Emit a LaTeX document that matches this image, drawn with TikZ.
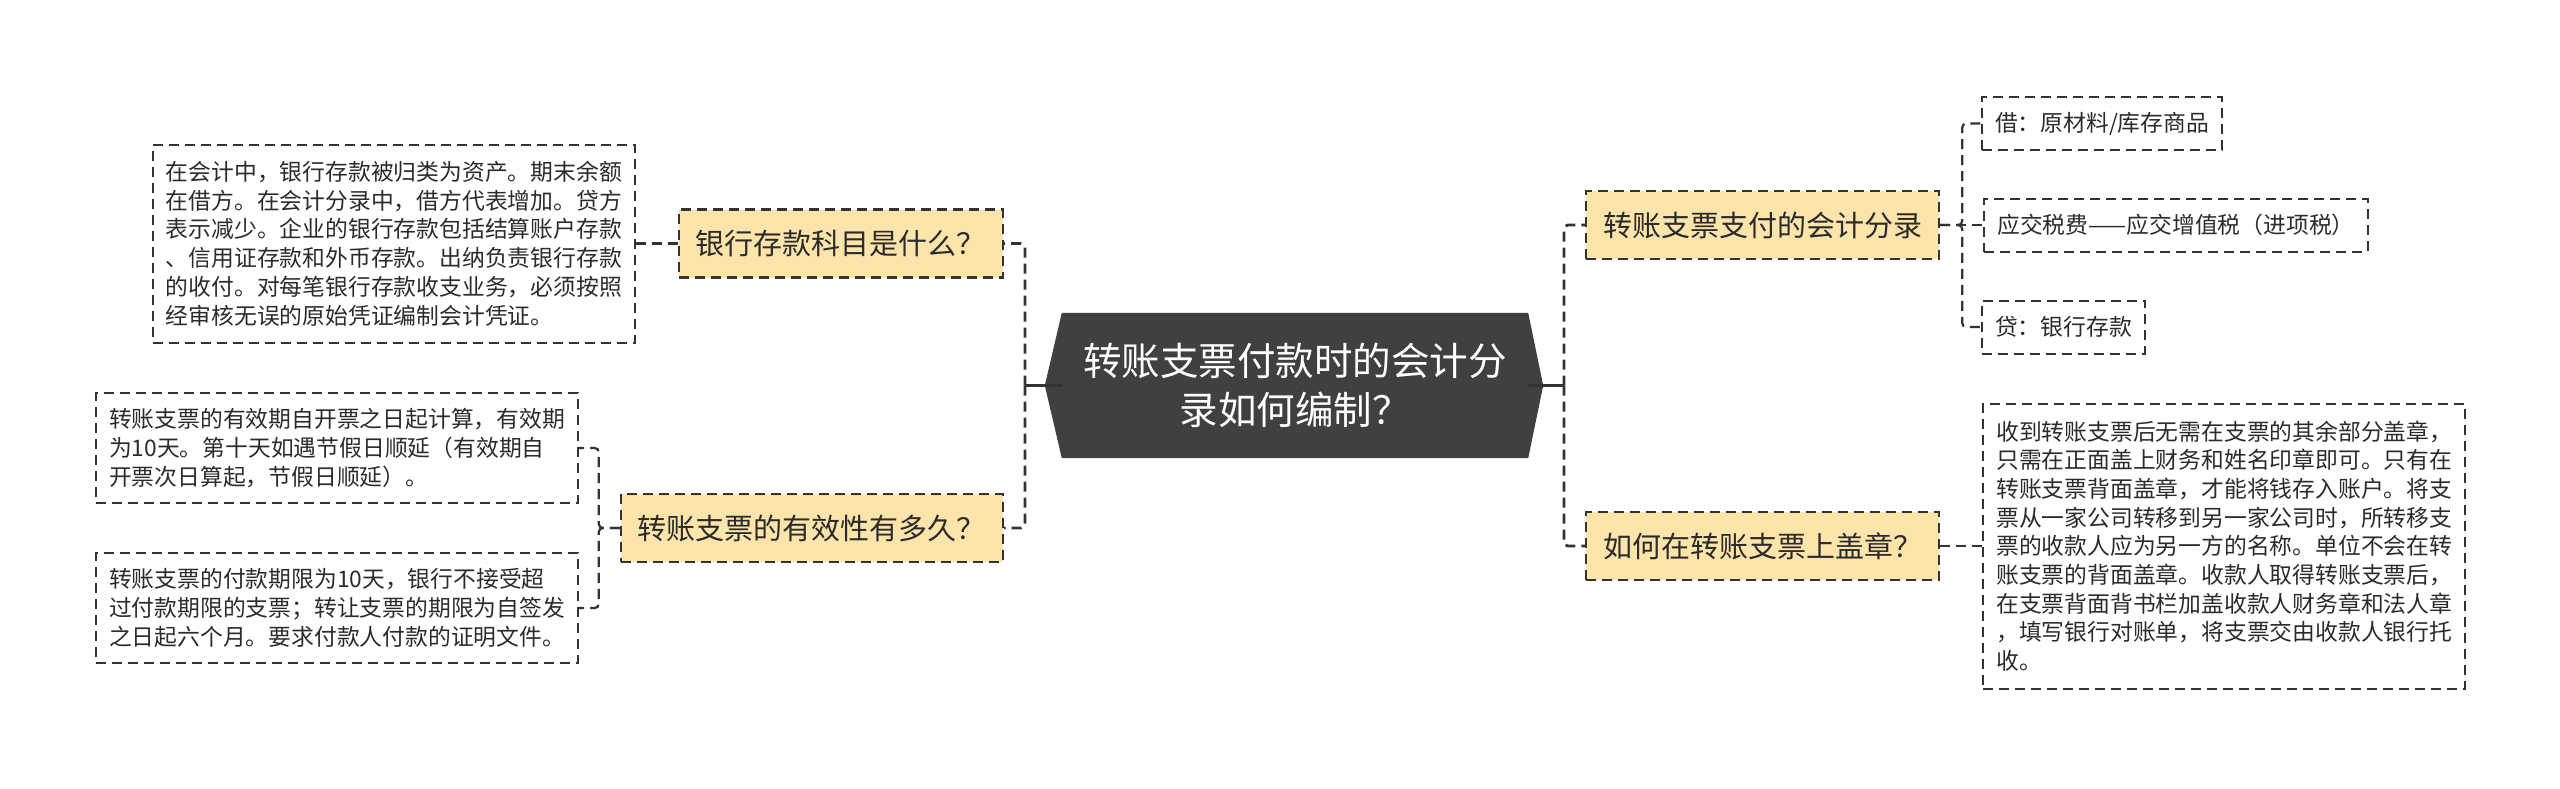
\documentclass[tikz,border=0pt]{standalone}
\usepackage{fontspec}
\setmainfont{Noto Sans CJK SC}
\usetikzlibrary{positioning,backgrounds}

\definecolor{rootgray}{HTML}{404040}
\definecolor{linegray}{HTML}{333333}
\definecolor{topicfill}{HTML}{FCE4AA}
\definecolor{textgray}{HTML}{2B2B2B}

\begin{document}
\begin{tikzpicture}[
    x=1pt, y=-1pt,
    root/.style={
        text=white,
        align=center,
        inner sep=0pt,
        minimum width=466pt,
        minimum height=145pt,
        font=\fontsize{38.5}{49}\selectfont
    },
    topic/.style={
        draw=linegray,
        fill=topicfill,
        line width=2.2pt,
        dash pattern=on 10pt off 6pt,
        inner xsep=17pt,
        minimum height=68pt,
        text=textgray,
        font=\fontsize{29}{35}\selectfont
    },
    detail/.style={
        draw=linegray,
        line width=2pt,
        dash pattern=on 10pt off 6pt,
        align=left,
        inner xsep=13pt,
        minimum height=#1,
        text=textgray,
        font=\fontsize{22.8}{28.7}\selectfont
    },
    detail/.default=53pt,
    stub/.style={line width=3pt, draw=linegray},
    branch/.style={line width=2.8pt, draw=linegray, dash pattern=on 10pt off 6pt, rounded corners=4pt},
    leaf/.style={line width=2.2pt, draw=linegray, dash pattern=on 10pt off 6pt, rounded corners=4pt}
]

\useasboundingbox (0,0) rectangle (2560,788);

\node[root] (root) at (1295,385.5) {转账支票付款时的会计分\\录如何编制？};

\node[topic, anchor=east] (bank) at (1004,243.5) {银行存款科目是什么？};
\node[topic, anchor=east] (valid) at (1004,528) {转账支票的有效性有多久？};
\node[topic, anchor=west] (entry) at (1585,225) {转账支票支付的会计分录};
\node[topic, anchor=west] (stamp) at (1585,546) {如何在转账支票上盖章？};

\node[detail=198pt, left=42pt of bank] (bankinfo) {在会计中，银行存款被归类为资产。期末余额\\在借方。在会计分录中，借方代表增加。贷方\\表示减少。企业的银行存款包括结算账户存款\\、信用证存款和外币存款。出纳负责银行存款\\的收付。对每笔银行存款收支业务，必须按照\\经审核无误的原始凭证编制会计凭证。};
\node[detail=110pt, anchor=east] (validA) at (579,448) {转账支票的有效期自开票之日起计算，有效期\\为10天。第十天如遇节假日顺延（有效期自\\开票次日算起，节假日顺延）。};
\node[detail=110pt, anchor=east] (validB) at (579,608) {转账支票的付款期限为10天，银行不接受超\\过付款期限的支票；转让支票的期限为自签发\\之日起六个月。要求付款人付款的证明文件。};

\node[detail, anchor=west] (debit) at (1981,123.5) {借：原材料/库存商品};
\node[detail, right=43pt of entry] (tax) {应交税费——应交增值税（进项税）};
\node[detail, anchor=west] (credit) at (1981,327) {贷：银行存款};
\node[detail=285pt, right=42pt of stamp] (stampinfo) {收到转账支票后无需在支票的其余部分盖章，\\只需在正面盖上财务和姓名印章即可。只有在\\转账支票背面盖章，才能将钱存入账户。将支\\票从一家公司转移到另一家公司时，所转移支\\票的收款人应为另一方的名称。单位不会在转\\账支票的背面盖章。收款人取得转账支票后，\\在支票背面背书栏加盖收款人财务章和法人章\\，填写银行对账单，将支票交由收款人银行托\\收。};

\begin{scope}[on background layer]
\fill[rootgray] (root.north west) -- ([xshift=-17pt]root.west) -- (root.south west) -- (root.south east) -- ([xshift=15pt]root.east) -- (root.north east) -- cycle;
\end{scope}

\coordinate (ljoint) at (1025,385.5);
\coordinate (rjoint) at (1564,385.5);

\draw[stub] (root.west) -- (ljoint);
\draw[branch] (ljoint) |- (bank.east);
\draw[branch] (ljoint) |- (valid.east);
\draw[stub] (root.east) -- (rjoint);
\draw[branch] (rjoint) |- (entry.west);
\draw[branch] (rjoint) |- (stamp.west);

\draw[leaf] (bank.west) -- (bankinfo.east);
\draw[leaf] (valid.west) -- ++(-21,0) |- (validA.east);
\draw[leaf] (valid.west) -- ++(-21,0) |- (validB.east);
\draw[leaf] (entry.east) -- ++(22,0) |- (debit.west);
\draw[leaf] (entry.east) -- (tax.west);
\draw[leaf] (entry.east) -- ++(22,0) |- (credit.west);
\draw[leaf] (stamp.east) -- (stampinfo.west);

\end{tikzpicture}
\end{document}
